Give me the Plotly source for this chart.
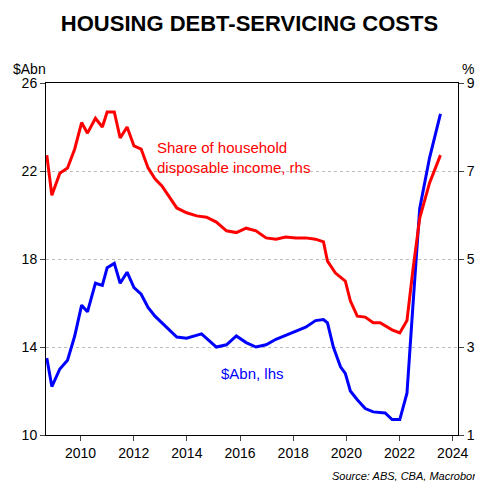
import plotly.graph_objects as go

blue_x = [2008.73,2008.92,2009.22,2009.51,2009.78,2010.04,2010.26,2010.56,2010.82,2011.0,2011.27,2011.49,2011.75,2012.01,2012.28,2012.54,2012.8,2013.32,2013.62,2013.99,2014.55,2015.11,2015.49,2015.86,2016.23,2016.6,2016.98,2017.35,2018.1,2018.47,2018.84,2019.14,2019.29,2019.51,2019.78,2019.96,2020.15,2020.41,2020.71,2021.01,2021.46,2021.72,2022.01,2022.28,2022.5,2022.76,2023.13,2023.54]
blue_y = [13.5,12.2,13.0,13.4,14.5,15.9,15.6,16.9,16.8,17.6,17.8,16.9,17.4,16.7,16.4,15.8,15.4,14.8,14.45,14.4,14.6,14.0,14.1,14.5,14.2,14.0,14.1,14.35,14.7,14.9,15.2,15.25,15.1,14.0,13.1,12.8,12.0,11.6,11.2,11.05,11.0,10.7,10.7,11.9,15.8,20.3,22.6,24.6]
red_x = [2008.73,2008.92,2009.22,2009.51,2009.78,2010.04,2010.26,2010.56,2010.82,2011.0,2011.27,2011.49,2011.75,2012.01,2012.28,2012.54,2012.8,2013.06,2013.32,2013.62,2013.99,2014.37,2014.74,2015.11,2015.49,2015.86,2016.23,2016.6,2016.98,2017.35,2017.72,2018.1,2018.47,2018.84,2019.14,2019.29,2019.59,2019.96,2020.15,2020.41,2020.71,2021.01,2021.27,2021.46,2021.72,2022.01,2022.28,2022.5,2022.76,2023.13,2023.54]
red_y = [7.36,6.45,6.95,7.07,7.5,8.1,7.86,8.2,8.0,8.34,8.34,7.75,8.0,7.57,7.5,7.07,6.82,6.66,6.43,6.16,6.05,5.98,5.95,5.84,5.64,5.6,5.7,5.64,5.48,5.45,5.5,5.48,5.48,5.45,5.39,4.95,4.68,4.5,4.05,3.7,3.68,3.55,3.55,3.48,3.39,3.32,3.6,4.73,5.93,6.73,7.36]

fig = go.Figure()
fig.add_trace(go.Scatter(x=blue_x, y=blue_y, mode="lines", line=dict(color="#0000ff", width=3), showlegend=False))
fig.add_trace(go.Scatter(x=red_x, y=red_y, mode="lines", line=dict(color="#ff0000", width=3), yaxis="y2", showlegend=False))

font = dict(family="Arial, Liberation Sans", color="black", size=14)
fig.update_layout(
    width=483, height=481, margin=dict(l=38, r=33, t=75, b=54),
    plot_bgcolor="white", paper_bgcolor="white", font=font,
    title=dict(text="<b>HOUSING DEBT-SERVICING COSTS</b>", x=0.5, xanchor="center", y=0.985, yanchor="top", font=dict(size=22, family="Arial, Liberation Sans")),
    xaxis=dict(range=[2008.7, 2024.2], tickvals=[2010,2012,2014,2016,2018,2020,2022,2024], ticks="outside", ticklen=5,
               showline=True, linecolor="black", mirror=True, showgrid=False, zeroline=False),
    yaxis=dict(range=[10, 26], tickvals=[10,14,18,22,26], ticks="outside", ticklen=5, showline=True, linecolor="black",
               showgrid=True, gridcolor="#bbbbbb", griddash="dot", zeroline=False),
    yaxis2=dict(range=[1, 9], tickvals=[1,3,5,7,9], overlaying="y", side="right", ticks="outside", ticklen=5,
                showline=True, linecolor="black", showgrid=False, zeroline=False),
    annotations=[
        dict(text="$Abn", xref="paper", yref="paper", x=-0.085, y=1.01, xanchor="left", yanchor="bottom", showarrow=False),
        dict(text="%", xref="paper", yref="paper", x=1.005, y=1.01, xanchor="left", yanchor="bottom", showarrow=False),
        dict(text="Share of household<br>disposable income, rhs", xref="x", yref="y", x=2012.8, y=22.6, xanchor="left", yanchor="middle",
             align="left", showarrow=False, font=dict(color="#ff0000", size=15)),
        dict(text="$Abn, lhs", xref="x", yref="y", x=2015.2, y=12.8, xanchor="left", showarrow=False, font=dict(color="#0000ff", size=15)),
        dict(text="<i>Source: ABS, CBA, Macrobond</i>", xref="paper", yref="paper", x=1.07, y=-0.095, xanchor="right", yanchor="top",
             showarrow=False, font=dict(size=11)),
    ],
)
fig.write_html("out.html")
